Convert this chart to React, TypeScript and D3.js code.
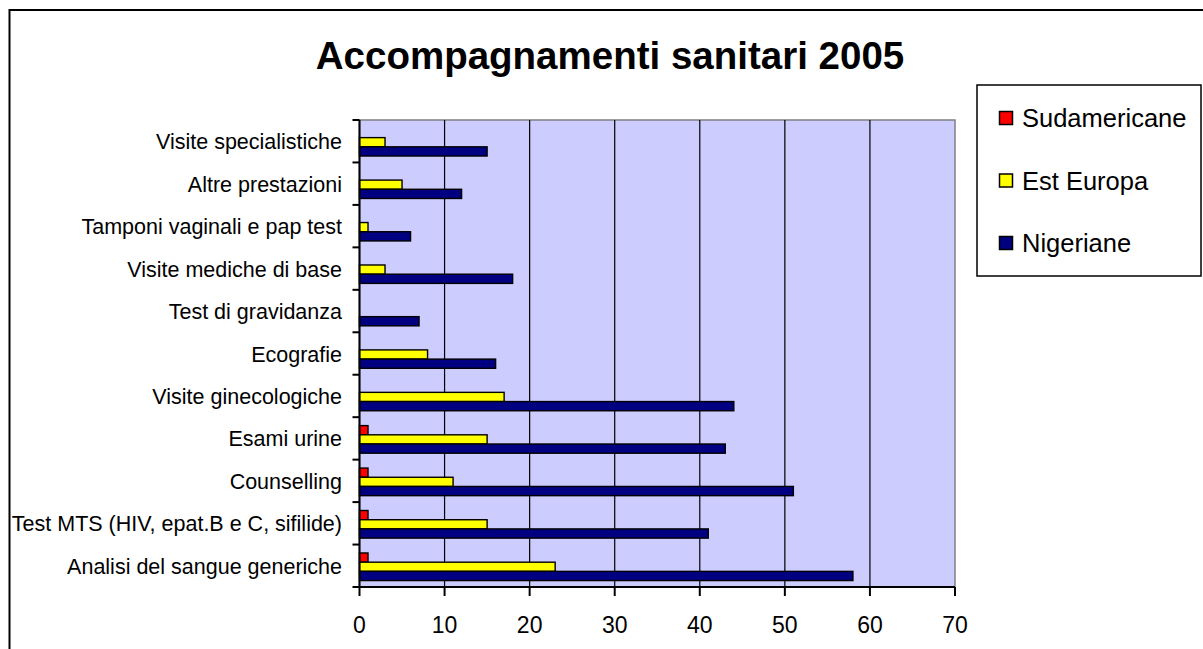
import React from "react";
import * as d3 from "d3";

const categories = [
  "Analisi del sangue generiche",
  "Test MTS (HIV, epat.B e C, sifilide)",
  "Counselling",
  "Esami urine",
  "Visite ginecologiche",
  "Ecografie",
  "Test di gravidanza",
  "Visite mediche di base",
  "Tamponi vaginali e pap test",
  "Altre prestazioni",
  "Visite specialistiche",
];
const sudamericane = [1, 1, 1, 1, 0, 0, 0, 0, 0, 0, 0];
const estEuropa = [23, 15, 11, 15, 17, 8, 0, 3, 1, 5, 3];
const nigeriane = [58, 41, 51, 43, 44, 16, 7, 18, 6, 12, 15];
const seriesNames = ["Sudamericane", "Est Europa", "Nigeriane"];
const seriesColors = ["#FF0000", "#FFFF00", "#000080"];
const xTicks = [0, 10, 20, 30, 40, 50, 60, 70];

const W = 1203;
const H = 649;
const plot = { left: 359.5, right: 955, top: 120, bottom: 587 };

export default function App() {
  const seriesValues = [sudamericane, estEuropa, nigeriane];
  const x = d3.scaleLinear().domain([0, 70]).range([plot.left, plot.right]);
  const y = d3
    .scaleBand<string>()
    .domain([...categories].reverse())
    .range([plot.top, plot.bottom])
    .paddingInner(0.35)
    .paddingOuter(0.175);
  const sub = d3
    .scaleBand<string>()
    .domain(seriesNames)
    .range([0, y.bandwidth()]);
  const step = y.step();
  const boundaries = d3.range(categories.length + 1).map((i) => plot.top + i * step);
  const font = "Liberation Sans, Arial, sans-serif";

  return (
    <div style={{ position: "fixed", left: 0, top: 0 }}>
      <svg width={W} height={H} style={{ display: "block", background: "#fff" }}>
        {/* outer chart border */}
        <rect x={9.5} y={10} width={W + 20} height={H + 20} fill="#fff" stroke="#000" strokeWidth={2} />
        {/* title */}
        <text
          x={610}
          y={69}
          textAnchor="middle"
          fontFamily={font}
          fontWeight="bold"
          fontSize={38.5}
          fill="#000"
        >
          Accompagnamenti sanitari 2005
        </text>
        {/* plot area */}
        <rect
          x={plot.left}
          y={plot.top}
          width={plot.right - plot.left}
          height={plot.bottom - plot.top}
          fill="#CCCCFF"
          stroke="#808080"
          strokeWidth={1.5}
        />
        {/* gridlines */}
        {xTicks.slice(1, -1).map((t) => (
          <line key={t} x1={x(t)} x2={x(t)} y1={plot.top} y2={plot.bottom} stroke="#000" strokeWidth={1.2} />
        ))}
        {/* bars */}
        {categories.map((c, i) =>
          seriesNames.map((s, j) => {
            const v = seriesValues[j][i];
            if (!v) return null;
            const by = (y(c) as number) + 1 + (sub(s) as number);
            return (
              <rect
                key={c + s}
                x={x(0)}
                y={by}
                width={x(v) - x(0)}
                height={sub.bandwidth()}
                fill={seriesColors[j]}
                stroke="#000"
                strokeWidth={1.4}
              />
            );
          })
        )}
        {/* axes */}
        <line x1={plot.left} x2={plot.left} y1={plot.top} y2={plot.bottom + 1} stroke="#000" strokeWidth={2} />
        <line x1={plot.left - 1} x2={plot.right} y1={plot.bottom} y2={plot.bottom} stroke="#000" strokeWidth={2} />
        {boundaries.map((b, i) => (
          <line key={"yt" + i} x1={plot.left - 7} x2={plot.left} y1={b} y2={b} stroke="#000" strokeWidth={2} />
        ))}
        {xTicks.map((t) => (
          <g key={"xt" + t}>
            <line x1={x(t)} x2={x(t)} y1={plot.bottom} y2={plot.bottom + 9} stroke="#000" strokeWidth={2} />
            <text
              x={x(t)}
              y={633}
              textAnchor="middle"
              fontFamily={font}
              fontSize={23}
              fill="#000"
            >
              {t}
            </text>
          </g>
        ))}
        {categories.map((c) => (
          <text
            key={"lab" + c}
            x={342}
            y={(y(c) as number) + y.bandwidth() / 2 + 8}
            textAnchor="end"
            fontFamily={font}
            fontSize={21.5}
            fill="#000"
          >
            {c}
          </text>
        ))}
        {/* legend */}
        <rect x={977} y={85} width={224} height={191} fill="#fff" stroke="#000" strokeWidth={1.5} />
        {seriesNames.map((s, j) => {
          const cy = 118 + j * 62.5;
          return (
            <g key={"lg" + s}>
              <rect x={999.5} y={cy - 6.5} width={13} height={13} fill={seriesColors[j]} stroke="#000" strokeWidth={1.5} />
              <text x={1022} y={cy + 9} fontFamily={font} fontSize={25.5} fill="#000">
                {s}
              </text>
            </g>
          );
        })}
      </svg>
    </div>
  );
}
